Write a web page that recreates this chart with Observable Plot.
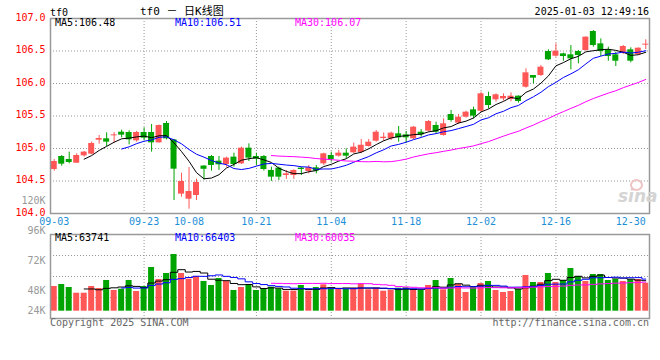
<!DOCTYPE html>
<html><head><meta charset="utf-8">
<script src="https://cdn.jsdelivr.net/npm/d3@7"></script>
<script src="https://cdn.jsdelivr.net/npm/@observablehq/plot@0.6"></script>
<style>
body{margin:0;background:#fff;}
#chart{position:relative;width:660px;height:360px;background:#fff;font-family:"DejaVu Sans Mono",monospace;font-size:10px;overflow:hidden;}
#chart svg{position:absolute;left:0;}
.t{position:absolute;white-space:pre;line-height:10px;font-size:10px;font-family:"DejaVu Sans Mono",monospace;}
</style></head><body><div id="chart"></div>
<script>
const dates = ["09-03","09-04","09-05","09-06","09-09","09-10","09-11","09-12","09-13","09-18","09-19","09-20","09-23","09-24","09-25","09-26","09-27","09-30","10-08","10-09","10-10","10-11","10-14","10-15","10-16","10-17","10-18","10-21","10-22","10-23","10-24","10-25","10-28","10-29","10-30","10-31","11-01","11-04","11-05","11-06","11-07","11-08","11-11","11-12","11-13","11-14","11-15","11-18","11-19","11-20","11-21","11-22","11-25","11-26","11-27","11-28","11-29","12-02","12-03","12-04","12-05","12-06","12-09","12-10","12-11","12-12","12-13","12-16","12-17","12-18","12-19","12-20","12-23","12-24","12-25","12-26","12-27","12-30","12-31","01-02"];
const open = [104.677,104.877,104.831,104.774,104.887,104.913,105.128,105.149,105.195,105.251,105.246,105.118,105.246,105.246,105.087,105.385,105.133,104.298,104.220,104.277,104.730,104.877,104.805,104.754,104.867,104.764,105.005,104.877,104.877,104.662,104.698,104.585,104.585,104.698,104.646,104.703,104.764,104.893,104.882,104.928,104.934,104.940,105.031,105.113,105.154,105.149,105.226,105.210,105.149,105.251,105.267,105.354,105.200,105.523,105.390,105.482,105.595,105.574,105.800,105.749,105.764,105.754,105.805,105.943,106.123,106.123,106.492,106.420,106.456,106.441,106.492,106.508,106.800,106.610,106.518,106.441,106.472,106.518,106.446,106.590];
const close = [104.800,104.759,104.785,104.892,104.944,105.077,105.154,105.098,105.210,105.205,105.133,105.246,105.159,105.087,105.354,105.149,104.682,104.492,104.338,104.477,104.680,104.739,104.749,104.852,104.754,105.005,104.852,104.836,104.677,104.559,104.559,104.610,104.662,104.677,104.703,104.652,104.918,104.831,104.928,104.882,105.021,105.050,105.097,105.251,105.174,105.236,105.164,105.164,105.328,105.210,105.415,105.251,105.380,105.431,105.482,105.559,105.497,105.841,105.661,105.826,105.800,105.805,105.723,106.164,106.082,106.251,106.364,106.497,106.415,106.379,106.431,106.713,106.584,106.492,106.415,106.343,106.569,106.343,106.543,106.605];
const high = [104.830,104.892,104.944,104.918,104.954,105.098,105.200,105.241,105.246,105.282,105.272,105.262,105.318,105.369,105.360,105.415,105.138,104.620,104.708,104.528,104.735,104.892,104.877,104.867,104.928,105.021,105.072,104.928,104.892,104.713,104.713,104.662,104.672,104.713,104.739,104.739,104.928,104.944,104.970,104.995,105.082,105.138,105.138,105.277,105.240,105.251,105.338,105.262,105.338,105.292,105.431,105.405,105.456,105.585,105.523,105.574,105.636,105.867,105.867,105.841,105.841,105.856,105.810,106.226,106.123,106.277,106.518,106.610,106.467,106.584,106.508,106.718,106.815,106.687,106.559,106.482,106.584,106.549,106.549,106.672];
const low = [104.651,104.728,104.764,104.774,104.867,104.903,105.067,105.031,105.082,105.164,105.056,105.098,105.118,104.944,105.082,105.133,104.200,104.251,104.067,104.200,104.515,104.652,104.662,104.713,104.713,104.754,104.800,104.739,104.652,104.493,104.508,104.524,104.524,104.585,104.610,104.610,104.739,104.790,104.867,104.841,104.918,104.920,105.021,105.097,105.110,105.123,105.097,105.082,105.133,105.174,105.251,105.226,105.190,105.405,105.369,105.467,105.456,105.559,105.610,105.713,105.730,105.720,105.700,105.928,105.995,106.108,106.354,106.405,106.343,106.210,106.302,106.497,106.559,106.415,106.343,106.261,106.446,106.318,106.431,106.523];
const volume = [51400,55500,49300,37400,37400,51400,47200,63900,43100,45800,63900,41000,51400,90900,65900,78400,117900,78400,66600,72200,61800,53500,68000,61800,43100,49300,55500,43100,45100,49900,46600,41600,41600,53500,41600,49300,54900,45800,45800,45800,47800,55500,44500,47800,41600,43100,47800,48700,44500,43100,53500,63900,44500,68000,55500,38900,49900,57600,61800,43100,38900,41000,45800,74300,59700,59700,78400,59700,63900,88800,72200,61800,76300,76300,63900,65900,61800,65300,65900,58200];
const tickLabels = ["09-03","09-23","10-08","10-21","11-04","11-18","12-02","12-16","12-30"];
const gridLabels = ["09-23","10-21","11-04","11-18","12-02","12-16"];
const priceTicks = [104.0,104.5,105.0,105.5,106.0,106.5,107.0];
const volTickLabels = [24000,48000,72000,96000,120000];
const legendPrice = [["MA5:106.48","#000"],["MA10:106.51","#0000ff"],["MA30:106.07","#ff00ff"]];
const legendVol = [["MA5:63741","#000"],["MA10:66403","#0000ff"],["MA30:60035","#ff00ff"]];
const maSpec = [[5,"#000000"],[10,"#0000ff"],[30,"#ff00ff"]];

const idx = d3.range(dates.length);
const tickIdx = tickLabels.map(d => dates.indexOf(d));
const gridIdx = gridLabels.map(d => dates.indexOf(d));
const RED = "#ff5656", GREEN = "#00a400";
const col = i => close[i] >= open[i] ? RED : GREEN;
function ma(arr, k){ return arr.map((_, i) => i < k-1 ? NaN : d3.mean(arr.slice(i-k+1, i+1))); }
const font = {fontFamily:"'DejaVu Sans Mono', monospace", fontSize:"10px", background:"transparent", overflow:"visible"};
const xOpt = {type:"band", domain: idx, paddingInner:0.2, paddingOuter:0.1};
const dotted = {stroke:"#999", strokeOpacity:1, strokeDasharray:"1,2"};
const chart = document.getElementById("chart");

const price = Plot.plot({
  width:660, height:228, marginTop:18, marginBottom:15, marginLeft:50, marginRight:11,
  style: font,
  x: xOpt,
  y: {domain:[104,107]},
  marks: [
    Plot.gridY(priceTicks.slice(1,-1), dotted),
    Plot.gridX(gridIdx, dotted),
    Plot.ruleX(idx, {x:d=>d, y1:i=>low[i], y2:i=>high[i], stroke:col}),
    Plot.barY(idx, {x:d=>d, y1:i=>open[i], y2:i=>close[i], fill:col}),
    Plot.tickY(idx.filter(i => Math.abs(open[i]-close[i]) < 0.012), {x:d=>d, y:i=>close[i], stroke:col}),
    ...maSpec.map(([k,c]) => { const v = ma(close,k); return Plot.lineY(idx, {x:d=>d, y:i=>v[i], stroke:c, strokeWidth:1}); }),
    Plot.axisY(priceTicks, {tickSize:0, tickPadding:5, tickFormat:d3.format(".1f"), color:"#ff0000", fill:"#ff0000", dy:-1, label:null}),
    Plot.axisX(tickIdx, {tickSize:0, tickPadding:4, tickFormat:i=>dates[i], color:"#1e8fd6", fill:"#1e8fd6", label:null}),
    Plot.frame({stroke:"#999", strokeWidth:1.5})
  ]
});
price.style.top = "0px";
chart.appendChild(price);

const vDomain = [-15200, 159500];
const vGrid = [1,2,3].map(k => vDomain[0] + k*(vDomain[1]-vDomain[0])/4);
const vol = Plot.plot({
  width:660, height:100, marginTop:8, marginBottom:8, marginLeft:50, marginRight:11,
  style: font,
  x: {...xOpt, axis:null},
  y: {domain:vDomain, axis:null},
  marks: [
    Plot.gridY(vGrid, dotted),
    Plot.gridX(gridIdx, dotted),
    Plot.barY(idx, {x:d=>d, y1:0, y2:i=>volume[i], fill:col}),
    ...maSpec.map(([k,c]) => { const v = ma(volume,k); return Plot.lineY(idx, {x:d=>d, y:i=>v[i], stroke:c, strokeWidth:1, curve:"step"}); }),
    Plot.frame({stroke:"#999", strokeWidth:1.5})
  ]
});
vol.style.top = "226px";
chart.appendChild(vol);

const labels = Plot.plot({
  width:660, height:360, marginTop:0, marginBottom:0, marginRight:0, marginLeft:50,
  style: font,
  y: {domain:[0,120000], range:[350.6,200.3]},
  marks: [
    Plot.axisY(volTickLabels.slice(1), {tickSize:0, tickPadding:5, tickFormat:d=>d/1000+"K", color:"#999", fill:"#999", label:null}),
    Plot.axisY(volTickLabels.slice(0,1), {tickSize:0, tickPadding:5, tickFormat:d=>d/1000+"K", color:"#999", fill:"#999", dy:-10, label:null})
  ]
});
labels.style.top = "0px";
labels.style.pointerEvents = "none";
chart.appendChild(labels);

function txt(s, css){ const d = document.createElement("div"); d.className = "t"; d.textContent = s; Object.assign(d.style, css); chart.appendChild(d); return d; }
txt("tf0", {left:"50px", top:"7.5px", color:"#000"});
txt("tf0 － 日K线图", {left:"140px", top:"5.5px", color:"#000", fontSize:"11px", lineHeight:"11px", fontFamily:"'DejaVu Sans Mono','Noto Sans CJK SC',monospace"});
txt("2025-01-03 12:49:16", {right:"11px", top:"6.5px", color:"#000"});
legendPrice.forEach(([s,c],k) => txt(s, {left:(55+120*k)+"px", top:"18px", color:c}));
legendVol.forEach(([s,c],k) => txt(s, {left:(55+120*k)+"px", top:"233px", color:c}));
txt("Copyright 2025 SINA.COM", {left:"50px", top:"317.5px", color:"#666"});
txt("http://finance.sina.com.cn", {right:"11px", top:"317.5px", color:"#666"});
txt("sina", {left:"618px", top:"188px", color:"#d4d4d4", fontSize:"17px", lineHeight:"17px", fontStyle:"italic", fontWeight:"bold", fontFamily:"'DejaVu Sans',sans-serif"});
const eye = document.createElement("div");
Object.assign(eye.style, {position:"absolute", left:"630px", top:"179px", width:"9px", height:"8px", border:"2px solid #efc4c4", borderRadius:"50%"});
chart.appendChild(eye);
</script>
</body></html>
